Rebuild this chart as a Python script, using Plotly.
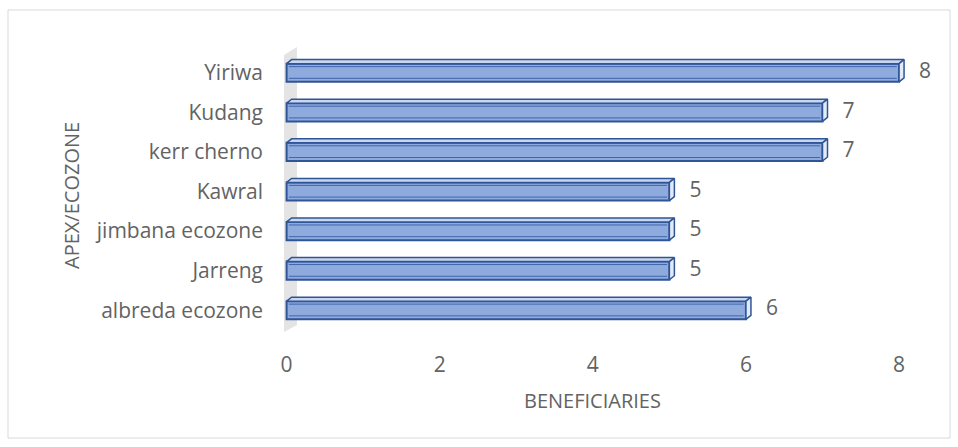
import plotly.graph_objects as go

categories = ["albreda ecozone", "Jarreng", "jimbana ecozone", "Kawral", "kerr cherno", "Kudang", "Yiriwa"]
values = [6, 5, 5, 5, 7, 7, 8]
x_ticks = [0, 2, 4, 6, 8]
x_title = "BENEFICIARIES"
y_title = "APEX/ECOZONE"

W, H = 958, 447
L, R, T, B = 282, 13, 47, 115
xr = [-0.06, 8.6]
yr = [-0.55, 6.65]
pw = W - L - R
ph = H - T - B
ux = pw / (xr[1] - xr[0])   # px per x unit
uy = ph / (yr[1] - yr[0])   # px per y unit

bw = 0.46                    # bar thickness (category units)
dx = 5 / ux                  # 3D depth in x
dy = 4 / uy                  # 3D depth in y

FILL = "#8FAADC"
EDGE = "#2F5597"
TOP = "#C9D6EF"
SIDE = "#E4EBF7"
GRAY = "#636363"
FONT = "Open Sans"

def px_x(p):
    return (p - L) / pw

def px_y(p):
    return (H - B - p) / ph

ypos = list(range(len(categories)))
fig = go.Figure()

fig.add_trace(go.Bar(x=values, y=ypos, orientation="h", width=bw,
                     marker=dict(color=FILL, line=dict(color=EDGE, width=2)),
                     showlegend=False))

# inner bevel lines
for v, y in zip(values, ypos):
    fig.add_trace(go.Scatter(x=[0.03, v - 0.03], y=[y - bw / 2 + 3.5 / uy] * 2, mode="lines",
                             line=dict(color="#3F66B0", width=1), hoverinfo="skip", showlegend=False))
    fig.add_trace(go.Scatter(x=[0.03, v - 0.03], y=[y + bw / 2 - 3 / uy] * 2, mode="lines",
                             line=dict(color="#3F66B0", width=1), hoverinfo="skip", showlegend=False))

# top faces and end faces
for v, y in zip(values, ypos):
    yt = y + bw / 2
    yb = y - bw / 2
    fig.add_trace(go.Scatter(x=[0, v, v + dx, dx, 0], y=[yt, yt, yt + dy, yt + dy, yt],
                             fill="toself", mode="lines", fillcolor=TOP,
                             line=dict(color=EDGE, width=1.5), hoverinfo="skip", showlegend=False))
    fig.add_trace(go.Scatter(x=[v, v + dx, v + dx, v, v], y=[yb, yb + dy, yt + dy, yt, yb],
                             fill="toself", mode="lines", fillcolor=SIDE,
                             line=dict(color=EDGE, width=1.5), hoverinfo="skip", showlegend=False))

# value labels
fig.add_trace(go.Scatter(x=[v + 20 / ux for v in values], y=ypos, mode="text",
                         text=[str(v) for v in values], textposition="middle right",
                         textfont=dict(family=FONT, size=21, color=GRAY),
                         cliponaxis=False, hoverinfo="skip", showlegend=False))

# back wall (3D), below the bars
wx0 = -2.6 / ux
wx1 = 10.4 / ux
fig.add_shape(type="path", xref="x", yref="y", layer="below",
              path=(f"M {wx0} {yr[0]} L {wx0} {yr[1] - 8 / uy} L {wx1} {yr[1]} "
                    f"L {wx1} {yr[0] + 7 / uy} Z"),
              fillcolor="#E4E4E4", line=dict(width=0))

# chart border
fig.add_shape(type="rect", xref="paper", yref="paper",
              x0=px_x(8), x1=px_x(950), y0=px_y(438), y1=px_y(10),
              line=dict(color="#D9D9D9", width=1), layer="below")

# axis titles
fig.add_annotation(text=x_title, xref="x", yref="paper", x=(x_ticks[0] + x_ticks[-1]) / 2,
                   y=px_y(400), showarrow=False, yanchor="middle",
                   font=dict(family=FONT, size=20, color=GRAY))
fig.add_annotation(text=y_title, xref="paper", yref="paper", x=px_x(71), y=px_y(196),
                   showarrow=False, textangle=-90, xanchor="center", yanchor="middle",
                   font=dict(family=FONT, size=20, color=GRAY))

fig.update_layout(
    width=W, height=H,
    margin=dict(l=L, r=R, t=T, b=B),
    paper_bgcolor="white", plot_bgcolor="white",
    font=dict(family=FONT, color=GRAY, size=21),
    xaxis=dict(range=xr, tickvals=x_ticks, ticktext=[str(t) for t in x_ticks],
               showgrid=False, zeroline=False, showline=False, ticks="",
               ticklabelstandoff=18, tickfont=dict(size=21, color=GRAY)),
    yaxis=dict(range=yr, tickvals=ypos, ticktext=categories,
               showgrid=False, zeroline=False, showline=False, ticks="",
               ticklabelstandoff=18, tickfont=dict(size=21, color=GRAY)),
)

fig.write_html("out.html")
